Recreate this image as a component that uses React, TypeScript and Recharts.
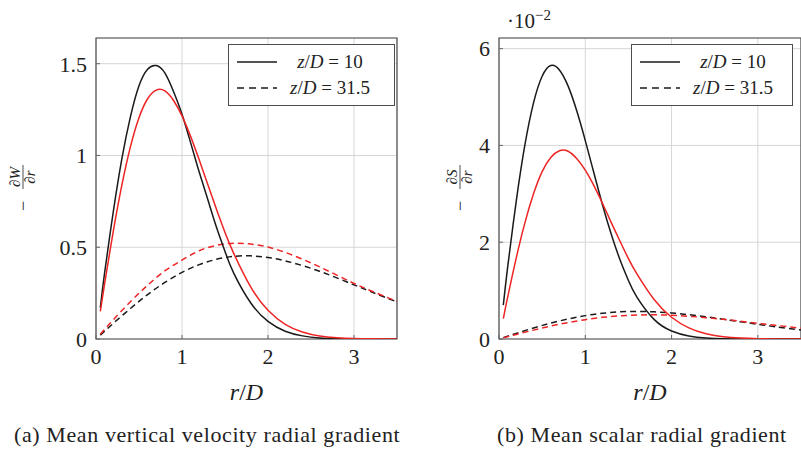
import React from 'react';
import { LineChart, Line, XAxis, YAxis, CartesianGrid, ReferenceArea, Legend, Label } from 'recharts';

// radial positions r/D
const rSolid = [0.05, 0.1, 0.2, 0.3, 0.4, 0.5, 0.6, 0.7, 0.8, 0.9, 1.0, 1.1, 1.2, 1.3, 1.4, 1.5, 1.6, 1.8, 2.0, 2.2, 2.4, 2.6, 2.8, 3.0, 3.2, 3.5];
const rDashed = [0.05, 0.2, 0.4, 0.6, 0.8, 1.0, 1.2, 1.4, 1.6, 1.8, 2.0, 2.2, 2.4, 2.6, 2.8, 3.0, 3.2, 3.5];

// (a) -dW/dr
const velBlack10 = [0.17, 0.36, 0.69, 0.98, 1.21, 1.38, 1.47, 1.49, 1.45, 1.35, 1.225, 1.07, 0.91, 0.76, 0.61, 0.477, 0.36, 0.196, 0.096, 0.042, 0.017, 0.006, 0.002, 0.0005, 0.0001, 0];
const velRed10 = [0.15, 0.3, 0.584, 0.837, 1.047, 1.206, 1.309, 1.356, 1.352, 1.301, 1.216, 1.104, 0.976, 0.842, 0.708, 0.58, 0.468, 0.283, 0.157, 0.08, 0.038, 0.016, 0.0066, 0.0024, 0.0008, 0.0001];
const velBlack315 = [0.021, 0.085, 0.166, 0.242, 0.308, 0.363, 0.405, 0.434, 0.45, 0.453, 0.444, 0.426, 0.4, 0.369, 0.333, 0.295, 0.257, 0.202];
const velRed315 = [0.026, 0.104, 0.203, 0.293, 0.371, 0.43, 0.481, 0.51, 0.522, 0.517, 0.501, 0.472, 0.435, 0.393, 0.348, 0.303, 0.262, 0.205];

// (b) -dS/dr, in units of 1e-2
const scaBlack10 = [0.7, 1.48, 2.85, 4.01, 4.88, 5.43, 5.65, 5.56, 5.23, 4.72, 4.1, 3.43, 2.77, 2.17, 1.65, 1.21, 0.86, 0.4, 0.166, 0.061, 0.02, 0.006, 0.002, 0.0005, 0.0001, 0];
const scaRed10 = [0.42, 0.86, 1.675, 2.4, 3.0, 3.46, 3.75, 3.89, 3.88, 3.73, 3.49, 3.17, 2.8, 2.41, 2.03, 1.66, 1.34, 0.81, 0.45, 0.23, 0.109, 0.046, 0.019, 0.007, 0.002, 0.0003];
const scaBlack315 = [0.029, 0.116, 0.228, 0.328, 0.414, 0.483, 0.532, 0.561, 0.57, 0.561, 0.538, 0.502, 0.458, 0.408, 0.355, 0.304, 0.254, 0.188];
const scaRed315 = [0.023, 0.094, 0.183, 0.267, 0.34, 0.4, 0.447, 0.479, 0.496, 0.5, 0.49, 0.47, 0.441, 0.407, 0.367, 0.325, 0.283, 0.223];

const xTicks = [0, 1, 2, 3];
const velTicks = [0, 0.5, 1, 1.5];
const scaTicks = [0, 2, 4, 6];
const legendItems = [
  { value: '10', dashed: false },
  { value: '31.5', dashed: true },
];

const FONT = '"Liberation Serif", "Times New Roman", Times, "Noto Serif", "DejaVu Serif", serif';
const INK = '#222';
const BLACK = '#1a1a1a';
const RED = '#ee2424';
const DASH = '6 4';

const toPoints = (xs: number[], ys: number[]) => xs.map((r, i) => ({ r, v: ys[i] }));

type Series = { key: string; xs: number[]; ys: number[]; color: string; dashed: boolean };

const LegendBox = () => (
  <div
    style={{
      boxSizing: 'border-box',
      width: '100%',
      height: 62,
      border: '1px solid #4d4d4d',
      background: '#fff',
      paddingTop: 4,
      fontFamily: FONT,
      fontSize: 19,
      color: INK,
    }}
  >
    {legendItems.map((it) => (
      <div key={it.value} style={{ display: 'flex', alignItems: 'center', height: 26 }}>
        <svg width={40} height={4} style={{ marginLeft: 8 }}>
          <line x1={0} x2={40} y1={2} y2={2} stroke={BLACK} strokeWidth={1.5} strokeDasharray={it.dashed ? '7 5' : undefined} />
        </svg>
        <span style={{ marginLeft: 4, width: 98, textAlign: 'center', whiteSpace: 'nowrap' }}>
          <i>z</i>/<i>D</i>&nbsp;=&nbsp;{it.value}
        </span>
      </div>
    ))}
  </div>
);

// -dX/dr written sideways; bx is the x of the fraction bar
const YFraction = ({ sym, bx, scaleX }: { sym: string; bx: number; scaleX?: number }) => {
  const fy = 177;
  const my = 206;
  const rot = (x: number, y: number) => `rotate(-90 ${x} ${y})`;
  return (
    <g fontFamily={FONT}>
      <text x={bx + 5.5} y={my} transform={rot(bx + 5.5, my)} fontSize={18} textAnchor="middle" fill={INK}>−</text>
      <text x={bx - 3} y={fy} transform={rot(bx - 3, fy)} fontSize={15} textAnchor="middle" fontStyle="italic" fill={INK}>∂{sym}</text>
      <line x1={bx} x2={bx} y1={fy - 12} y2={fy + 12} stroke={INK} strokeWidth={0.8} />
      <text x={bx + 12} y={fy} transform={rot(bx + 12, fy)} fontSize={15} textAnchor="middle" fontStyle="italic" fill={INK}>∂r</text>
      {scaleX !== undefined && (
        <text x={scaleX} y={28} fontSize={21} fill={INK}>
          ·10
          <tspan dy={-8} fontSize={15}>−2</tspan>
        </text>
      )}
    </g>
  );
};

const XTitle = (props: any) => {
  const vb = props.viewBox || { x: 96, y: 339, width: 301, height: 71 };
  return (
    <text x={vb.x + vb.width / 2} y={vb.y + 61} textAnchor="middle" fontFamily={FONT} fontSize={24} fill={INK}>
      <tspan fontStyle="italic">r</tspan>/<tspan fontStyle="italic">D</tspan>
    </text>
  );
};

interface PanelProps {
  left: number;
  width: number;
  marginLeft: number;
  marginRight: number;
  yMax: number;
  yTicks: number[];
  sym: string;
  barX: number;
  scaleX?: number;
  legendLeft: number;
  legendWidth: number;
  series: Series[];
}

const tickFont = { fontFamily: FONT, fontSize: 22, fill: INK };

const Panel = ({ left, width, marginLeft, marginRight, yMax, yTicks, sym, barX, scaleX, legendLeft, legendWidth, series }: PanelProps) => (
  <div style={{ position: 'absolute', left, top: 0 }}>
    <LineChart width={width} height={410} margin={{ top: 38, right: marginRight, bottom: 0, left: marginLeft }}>
      <CartesianGrid stroke="#d6d6d6" strokeWidth={1} />
      <XAxis
        type="number"
        dataKey="r"
        domain={[0, 3.5]}
        ticks={xTicks}
        height={71}
        axisLine={false}
        tickSize={-4}
        tickMargin={13}
        tickLine={{ stroke: '#666' }}
        tick={tickFont}
        allowDataOverflow
      >
        <Label content={(p: any) => <XTitle {...p} />} />
      </XAxis>
      <YAxis
        type="number"
        domain={[0, yMax]}
        ticks={yTicks}
        width={60}
        axisLine={false}
        tickSize={-4}
        tickMargin={13}
        tickLine={{ stroke: '#666' }}
        tick={tickFont}
        allowDataOverflow
      >
        <Label content={() => <YFraction sym={sym} bx={barX} scaleX={scaleX} />} />
      </YAxis>
      <ReferenceArea x1={0} x2={3.5} y1={0} y2={yMax} fill="none" stroke="#4d4d4d" strokeWidth={1.2} />
      {series.map((s) => (
        <Line
          key={s.key}
          data={toPoints(s.xs, s.ys)}
          dataKey="v"
          type="natural"
          stroke={s.color}
          strokeWidth={1.5}
          strokeDasharray={s.dashed ? DASH : undefined}
          dot={false}
          activeDot={false}
          isAnimationActive={false}
        />
      ))}
      <Legend
        layout="vertical"
        align="center"
        verticalAlign="middle"
        content={() => <LegendBox />}
        wrapperStyle={{ left: legendLeft, top: 44, width: legendWidth, height: 62 }}
      />
    </LineChart>
  </div>
);

const velSeries: Series[] = [
  { key: 'vb315', xs: rDashed, ys: velBlack315, color: BLACK, dashed: true },
  { key: 'vr315', xs: rDashed, ys: velRed315, color: RED, dashed: true },
  { key: 'vb10', xs: rSolid, ys: velBlack10, color: BLACK, dashed: false },
  { key: 'vr10', xs: rSolid, ys: velRed10, color: RED, dashed: false },
];

const scaSeries: Series[] = [
  { key: 'sb315', xs: rDashed, ys: scaBlack315, color: BLACK, dashed: true },
  { key: 'sr315', xs: rDashed, ys: scaRed315, color: RED, dashed: true },
  { key: 'sb10', xs: rSolid, ys: scaBlack10, color: BLACK, dashed: false },
  { key: 'sr10', xs: rSolid, ys: scaRed10, color: RED, dashed: false },
];

const captionStyle: React.CSSProperties = {
  position: 'absolute',
  top: 423,
  fontFamily: FONT,
  fontSize: 22,
  letterSpacing: 0.6,
  lineHeight: '24px',
  color: INK,
  whiteSpace: 'nowrap',
};

export default function App() {
  return (
    <div style={{ position: 'absolute', left: 0, top: 0, width: 801, height: 450, overflow: 'hidden', background: '#fff' }}>
      <Panel
        left={0}
        width={400}
        marginLeft={36}
        marginRight={3}
        yMax={1.64}
        yTicks={velTicks}
        sym="W"
        barX={23}
        legendLeft={228}
        legendWidth={167}
        series={velSeries}
      />
      <Panel
        left={400}
        width={401}
        marginLeft={39}
        marginRight={0}
        yMax={6.22}
        yTicks={scaTicks}
        sym="S"
        barX={60}
        scaleX={107}
        legendLeft={231}
        legendWidth={162}
        series={scaSeries}
      />
      <div style={{ ...captionStyle, left: 14 }}>(a) Mean vertical velocity radial gradient</div>
      <div style={{ ...captionStyle, left: 497 }}>(b) Mean scalar radial gradient</div>
    </div>
  );
}
